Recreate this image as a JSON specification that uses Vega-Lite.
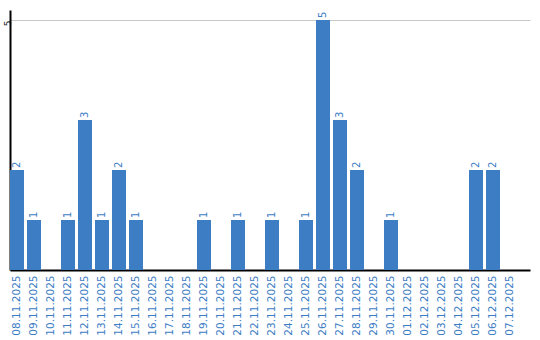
{
  "$schema": "https://vega.github.io/schema/vega-lite/v6.json",
  "width": 520,
  "height": 260,
  "autosize": "none",
  "padding": {"left": 10, "top": 10, "right": 10, "bottom": 70},
  "background": "white",
  "config": {"view": {"stroke": null}, "font": "DejaVu Sans"},
  "data": {"values": [
    {"date": "08.11.2025", "count": 2},
    {"date": "09.11.2025", "count": 1},
    {"date": "10.11.2025", "count": 0},
    {"date": "11.11.2025", "count": 1},
    {"date": "12.11.2025", "count": 3},
    {"date": "13.11.2025", "count": 1},
    {"date": "14.11.2025", "count": 2},
    {"date": "15.11.2025", "count": 1},
    {"date": "16.11.2025", "count": 0},
    {"date": "17.11.2025", "count": 0},
    {"date": "18.11.2025", "count": 0},
    {"date": "19.11.2025", "count": 1},
    {"date": "20.11.2025", "count": 0},
    {"date": "21.11.2025", "count": 1},
    {"date": "22.11.2025", "count": 0},
    {"date": "23.11.2025", "count": 1},
    {"date": "24.11.2025", "count": 0},
    {"date": "25.11.2025", "count": 1},
    {"date": "26.11.2025", "count": 5},
    {"date": "27.11.2025", "count": 3},
    {"date": "28.11.2025", "count": 2},
    {"date": "29.11.2025", "count": 0},
    {"date": "30.11.2025", "count": 1},
    {"date": "01.12.2025", "count": 0},
    {"date": "02.12.2025", "count": 0},
    {"date": "03.12.2025", "count": 0},
    {"date": "04.12.2025", "count": 0},
    {"date": "05.12.2025", "count": 2},
    {"date": "06.12.2025", "count": 2},
    {"date": "07.12.2025", "count": 0}
  ]},
  "encoding": {
    "x": {
      "field": "date", "type": "ordinal", "sort": null,
      "scale": {"paddingInner": 0.1765, "paddingOuter": 0.382, "align": 0},
      "axis": {
        "title": null, "labelAngle": 270, "labelColor": "#3c7dc4", "labelFontSize": 10.5,
        "ticks": false, "labelPadding": 5, "domainColor": "#000000", "domainWidth": 2, "grid": false
      }
    },
    "y": {
      "field": "count", "type": "quantitative",
      "scale": {"domain": [0, 5.2], "nice": false},
      "axis": {
        "title": null, "values": [5], "grid": true, "gridColor": "#c8c8c8", "gridWidth": 1,
        "ticks": false, "domainColor": "#000000", "domainWidth": 2, "labelAngle": 270,
        "labelAlign": "right", "labelBaseline": "middle",
        "labelFontSize": 9, "labelColor": "#222222", "labelPadding": 3
      }
    }
  },
  "layer": [
    {"mark": {"type": "bar", "color": "#3c7dc4"}},
    {
      "transform": [{"filter": "datum.count > 0"}],
      "mark": {"type": "text", "angle": 270, "align": "left", "baseline": "middle", "dx": 2, "color": "#3c7dc4", "fontSize": 10},
      "encoding": {"text": {"field": "count", "type": "quantitative"}}
    }
  ]
}
